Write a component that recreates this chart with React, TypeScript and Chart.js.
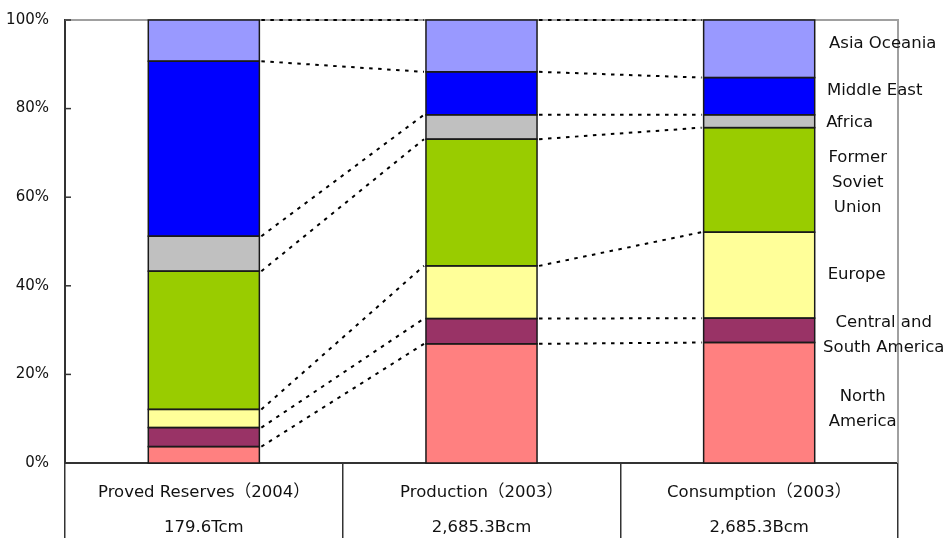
import React, { useEffect, useRef } from "react";
import { Chart, registerables } from "chart.js";

Chart.register(...registerables);

// ---- data ----
const categories = ["Proved Reserves（2004）", "Production（2003）", "Consumption（2003）"];
const totals = ["179.6Tcm", "2,685.3Bcm", "2,685.3Bcm"];
const seriesNames = [
  "North America",
  "Central and South America",
  "Europe",
  "Former Soviet Union",
  "Africa",
  "Middle East",
  "Asia Oceania",
];
const seriesLabelLines = [
  ["North", "America"],
  ["Central and", "South America"],
  ["Europe"],
  ["Former", "Soviet", "Union"],
  ["Africa"],
  ["Middle East"],
  ["Asia Oceania"],
];
const northAmerica = [3.7, 26.9, 27.2];
const centralSouthAmerica = [4.3, 5.7, 5.5];
const europe = [4.1, 11.9, 19.4];
const formerSovietUnion = [31.2, 28.6, 23.6];
const africa = [7.9, 5.5, 2.9];
const middleEast = [39.5, 9.7, 8.4];
const asiaOceania = [9.3, 11.7, 13.0];
const seriesValues = [northAmerica, centralSouthAmerica, europe, formerSovietUnion, africa, middleEast, asiaOceania];

// ---- styles ----
const colors = ["#FF8080", "#993366", "#FFFF99", "#99CC00", "#C0C0C0", "#0000FF", "#9999FF"];
const labelCenterOffsets = [48, 69, 42, 43, 35, 60, 68];
const labelNudges = [6, 5, 0, 3, 1, -5, -5];
const FONT = '"DejaVu Sans", "Noto Sans CJK JP", sans-serif';
const FONT_SIZE = 16.5;
const TICK_FONT_SIZE = 15;

function cumulative(ci: number): number[] {
  const out = [0];
  let s = 0;
  for (const arr of seriesValues) {
    s += arr[ci];
    out.push(s);
  }
  return out;
}

const overlayPlugin = {
  id: "overlay",
  beforeDatasetsDraw(chart: any) {
    const { ctx, chartArea: a } = chart;
    ctx.save();
    ctx.strokeStyle = "#A0A0A0";
    ctx.lineWidth = 2;
    ctx.beginPath();
    ctx.moveTo(a.left, a.top);
    ctx.lineTo(a.right, a.top);
    ctx.lineTo(a.right, a.bottom);
    ctx.stroke();
    const y = chart.scales.y;
    ctx.strokeStyle = "#333";
    ctx.lineWidth = 1.5;
    y.ticks.forEach((t: any) => {
      const py = y.getPixelForValue(t.value);
      ctx.beginPath();
      ctx.moveTo(a.left, py);
      ctx.lineTo(a.left + 6, py);
      ctx.stroke();
    });
    ctx.restore();
  },
  afterDatasetsDraw(chart: any) {
    const { ctx } = chart;
    const y = chart.scales.y;
    // segment outlines
    ctx.save();
    ctx.strokeStyle = "#1a1a1a";
    ctx.lineWidth = 1.5;
    chart.data.datasets.forEach((_: any, d: number) => {
      chart.getDatasetMeta(d).data.forEach((el: any) => {
        const left = el.x - el.width / 2;
        const top = Math.min(el.y, el.base);
        const h = Math.abs(el.base - el.y);
        ctx.strokeRect(left, top, el.width, h);
      });
    });
    ctx.restore();
    // connectors
    const meta = chart.getDatasetMeta(0);
    ctx.save();
    ctx.strokeStyle = "#000";
    ctx.lineWidth = 2;
    ctx.setLineDash([3.5, 5.5]);
    for (let c = 0; c < categories.length - 1; c++) {
      const a = meta.data[c];
      const b = meta.data[c + 1];
      const x1 = a.x + a.width / 2;
      const x2 = b.x - b.width / 2;
      const ca = cumulative(c);
      const cb = cumulative(c + 1);
      for (let k = 1; k < ca.length; k++) {
        ctx.beginPath();
        ctx.moveTo(x1 + 2, y.getPixelForValue(ca[k]));
        ctx.lineTo(x2 - 2, y.getPixelForValue(cb[k]));
        ctx.stroke();
      }
    }
    ctx.restore();
  },
  afterDraw(chart: any) {
    const { ctx, chartArea: a } = chart;
    const x = chart.scales.x;
    const y = chart.scales.y;
    ctx.save();
    ctx.fillStyle = "#111";
    ctx.font = `${FONT_SIZE}px ${FONT}`;
    ctx.textAlign = "center";
    ctx.textBaseline = "middle";
    categories.forEach((cat, i) => {
      const px = x.getPixelForValue(i);
      ctx.fillText(cat, px, a.bottom + 30);
      ctx.fillText(totals[i], px, a.bottom + 65);
    });
    const last = categories.length - 1;
    const el = chart.getDatasetMeta(0).data[last];
    const right = el.x + el.width / 2;
    const cum = cumulative(last);
    seriesLabelLines.forEach((lines, s) => {
      const mid = y.getPixelForValue((cum[s] + cum[s + 1]) / 2) + labelNudges[s];
      const cx = right + labelCenterOffsets[s];
      const lh = 25;
      lines.forEach((ln, j) => {
        ctx.fillText(ln, cx, mid - ((lines.length - 1) * lh) / 2 + j * lh);
      });
    });
    ctx.restore();
  },
};

export default function App() {
  const ref = useRef<HTMLCanvasElement | null>(null);
  useEffect(() => {
    if (!ref.current) return;
    const chart = new Chart(ref.current, {
      type: "bar",
      data: {
        labels: categories,
        datasets: seriesValues.map((vals, i) => ({
          label: seriesNames[i],
          data: vals,
          backgroundColor: colors[i],
          borderWidth: 0,
          barPercentage: 0.4,
          categoryPercentage: 1,
        })),
      },
      options: {
        responsive: false,
        animation: false,
        layout: { padding: { top: 20, right: 51, bottom: 0, left: 0 } },
        plugins: { legend: { display: false }, tooltip: { enabled: false } },
        scales: {
          x: {
            stacked: true,
            afterFit: (s: any) => {
              s.height = 75;
            },
            ticks: { display: false },
            grid: {
              display: true,
              drawOnChartArea: false,
              drawTicks: true,
              tickLength: 75,
              color: "#333",
              lineWidth: 1.5,
              offset: true,
            },
            border: { display: true, color: "#333", width: 2 },
          },
          y: {
            stacked: true,
            min: 0,
            max: 100,
            afterFit: (s: any) => {
              s.width = 65;
              s.paddingTop = 8;
              s.paddingBottom = 8;
            },
            ticks: {
              stepSize: 20,
              padding: 16,
              color: "#111",
              font: { family: FONT, size: TICK_FONT_SIZE },
              callback: (v: any) => `${v}%`,
            },
            grid: { display: false, drawTicks: false },
            border: { display: true, color: "#333", width: 2 },
          },
        },
      },
      plugins: [overlayPlugin],
    });
    return () => chart.destroy();
  }, []);
  return (
    <div style={{ position: "absolute", left: 0, top: 0, width: 949, height: 538, background: "#fff" }}>
      <canvas ref={ref} width={949} height={538} />
    </div>
  );
}
